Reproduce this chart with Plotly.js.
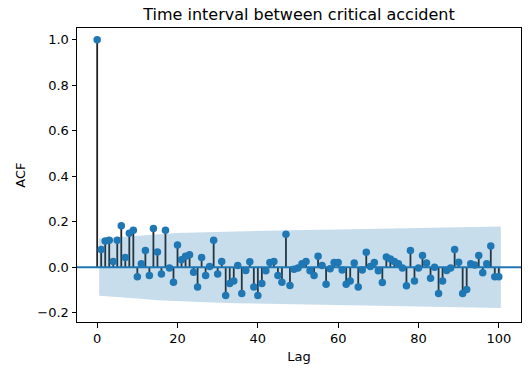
<!DOCTYPE html>
<html>
<head>
<meta charset="utf-8">
<script src="https://cdn.plot.ly/plotly-3.0.1.min.js"></script>
<style>html,body{margin:0;padding:0;background:#fff;}#chart{width:532px;height:367px;}</style>
</head>
<body>
<div id="chart"></div>
<script>
// Autocorrelation values for lags 0..100
const lags = [];
for (let i = 0; i <= 100; i++) lags.push(i);
const acfValues = [
  1.0, 0.078, 0.115, 0.119, 0.025, 0.119, 0.182, 0.043, 0.149, 0.163,
  -0.042, 0.015, 0.073, -0.037, 0.17, 0.067, -0.03, 0.163, -0.004, -0.066,
  0.098, 0.033, 0.048, 0.055, -0.022, -0.087, 0.043, -0.036, 0.003, 0.119,
  -0.03, 0.025, -0.124, -0.072, -0.061, 0.007, -0.116, -0.015, 0.024, -0.087,
  -0.124, -0.072, -0.016, 0.021, 0.025, -0.036, -0.066, 0.145, -0.081, -0.009,
  -0.004, 0.015, 0.025, -0.016, -0.036, 0.048, 0.007, -0.075, -0.007, 0.021,
  0.021, -0.012, -0.075, -0.061, 0.018, -0.087, -0.012, 0.066, 0.003, 0.021,
  -0.016, -0.067, 0.045, 0.036, 0.025, 0.015, -0.004, -0.082, 0.073, -0.061,
  -0.004, 0.051, 0.018, -0.049, 0.0, -0.116, -0.061, -0.015, -0.004, 0.078,
  0.022, -0.116, -0.098, 0.015, 0.01, 0.051, -0.024, 0.015, 0.093, -0.042,
  -0.042
];
// Confidence band half-width, read at several lags
const bandLags = [0.5, 5, 10, 15, 20, 27, 35, 48, 60, 70, 80, 90, 100.5];
const bandHalf = [0.126, 0.132, 0.138, 0.145, 0.15, 0.154, 0.158, 0.163, 0.166, 0.169, 0.172, 0.176, 0.179];

const xTicks = [0, 20, 40, 60, 80, 100];
const yTicks = [-0.2, 0.0, 0.2, 0.4, 0.6, 0.8, 1.0];

const C0 = '#1f77b4';

// stems
const stemX = [], stemY = [];
lags.forEach((l, i) => { stemX.push(l, l, null); stemY.push(0, acfValues[i], null); });

// band polygon
const bandX = bandLags.concat(bandLags.slice().reverse());
const bandY = bandHalf.concat(bandHalf.slice().reverse().map(v => -v));

const traces = [
  {x: stemX, y: stemY, mode: 'lines', line: {color: '#222', width: 1.8}, hoverinfo: 'skip', showlegend: false},
  {x: bandX, y: bandY, mode: 'lines', fill: 'toself', fillcolor: 'rgba(31,119,180,0.25)', line: {width: 0}, hoverinfo: 'skip', showlegend: false},
  {x: [-5.025, 105.525], y: [0, 0], mode: 'lines', line: {color: C0, width: 2}, hoverinfo: 'skip', showlegend: false},
  {x: lags, y: acfValues, mode: 'markers', marker: {color: C0, size: 7.5}, showlegend: false}
];

const axisCommon = {
  showline: true, mirror: true, linecolor: '#000', linewidth: 1,
  ticks: 'outside', ticklen: 4.5, tickcolor: '#000', tickwidth: 1,
  showgrid: false, zeroline: false,
  tickfont: {family: 'DejaVu Sans', size: 13, color: '#000'}
};

const layout = {
  width: 532, height: 367,
  margin: {l: 77, r: 11, t: 28, b: 45},
  paper_bgcolor: '#fff', plot_bgcolor: '#fff',
  font: {family: 'DejaVu Sans', color: '#000'},
  title: {text: 'Time interval between critical accident', font: {family: 'DejaVu Sans', size: 16, color: '#000'},
          x: 0.5 * (77 + 521) / 532, xanchor: 'center', y: 1 - 14 / 367, yanchor: 'middle', yref: 'container'},
  xaxis: Object.assign({}, axisCommon, {
    range: [-5.025, 105.525], tickvals: xTicks, ticktext: xTicks.map(String),
    title: {text: 'Lag', font: {family: 'DejaVu Sans', size: 13, color: '#000'}, standoff: 6}
  }),
  yaxis: Object.assign({}, axisCommon, {
    range: [-0.241, 1.052], tickvals: yTicks, tickformat: '.1f',
    title: {text: 'ACF', font: {family: 'DejaVu Sans', size: 13, color: '#000'}, standoff: 8}
  })
};

Plotly.newPlot('chart', traces, layout, {displayModeBar: false, staticPlot: true});
</script>
</body>
</html>
